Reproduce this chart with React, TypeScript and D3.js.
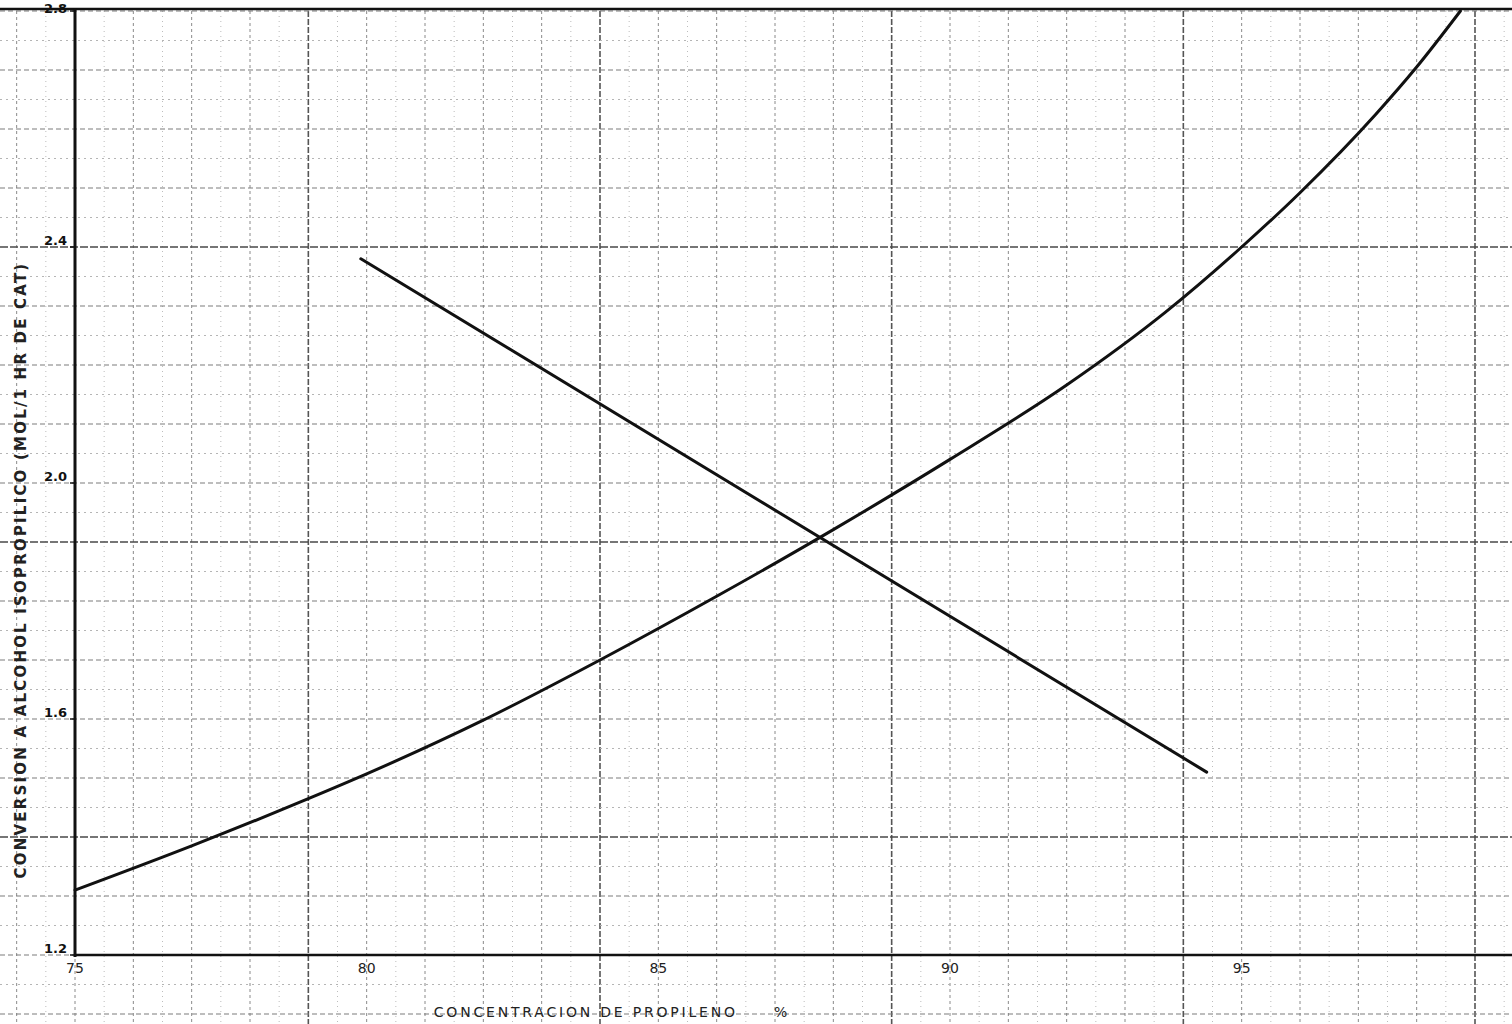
import React from "react";
import * as d3 from "d3";

// Propylene concentration (%) vs conversion to isopropyl alcohol
const risingX = [75, 77, 79, 80, 82, 84, 86, 88, 90, 92, 93.7, 95, 96, 97.3, 98, 98.75];
const risingY = [1.31, 1.385, 1.465, 1.507, 1.598, 1.7, 1.808, 1.921, 2.04, 2.166, 2.29, 2.4, 2.492, 2.625, 2.705, 2.8];

const fallingX = [79.9, 94.4];
const fallingY = [2.38, 1.51];

const xTicks = [75, 80, 85, 90, 95];
const yTicks = [1.2, 1.6, 2.0, 2.4, 2.8];

const xTitle = "CONCENTRACION DE PROPILENO     %";
const yTitle = "CONVERSION A ALCOHOL ISOPROPILICO (MOL/1 HR DE CAT)";

const W = 1512;
const H = 1024;

export default function App() {
  const x = d3.scaleLinear().domain([75, 99.6]).range([75, 1510]);
  const y = d3.scaleLinear().domain([1.2, 2.8]).range([955, 11]);

  // graph paper lines, extended across the whole sheet
  const vMinor = d3.range(73.5, 100.01, 0.5);
  const hMinor = d3.range(1.1, 2.801, 0.05);
  const isWhole = (v: number) => Math.abs(v - Math.round(v)) < 1e-6;
  const isTenth = (v: number) => Math.abs(v * 10 - Math.round(v * 10)) < 1e-6;
  const vMajor = [79, 84, 89, 94, 99];
  const hMajor = [1.4, 1.9, 2.4];

  const line = d3
    .line<[number, number]>()
    .x((d) => x(d[0]))
    .y((d) => y(d[1]))
    .curve(d3.curveMonotoneX);

  const rising = risingX.map((v, i) => [v, risingY[i]] as [number, number]);
  const falling = fallingX.map((v, i) => [v, fallingY[i]] as [number, number]);

  const font = "'DejaVu Sans', sans-serif";

  return (
    <svg
      width={W}
      height={H}
      style={{ position: "absolute", left: 0, top: 0, background: "#fff" }}
    >
      <rect width={W} height={H} fill="#fff" />
      <g>
        {vMinor.map((v) => {
          const major = vMajor.some((m) => Math.abs(m - v) < 1e-6);
          const whole = isWhole(v);
          return (
            <line
              key={"v" + v}
              x1={x(v)}
              x2={x(v)}
              y1={y(2.8)}
              y2={H}
              stroke={major ? "#555" : whole ? "#8a8a8a" : "#bdbdbd"}
              strokeWidth={major ? 1.6 : 1}
              strokeDasharray={major ? "6 2" : whole ? "3 3" : "1 4"}
            />
          );
        })}
        {hMinor.map((v) => {
          const major = hMajor.some((m) => Math.abs(m - v) < 1e-6);
          const tenth = isTenth(v);
          return (
            <line
              key={"h" + v}
              x1={0}
              x2={W}
              y1={y(v)}
              y2={y(v)}
              stroke={major ? "#4a4a4a" : tenth ? "#7d7d7d" : "#b5b5b5"}
              strokeWidth={major ? 1.6 : tenth ? 1.2 : 1}
              strokeDasharray={major ? "8 2" : tenth ? "5 3" : "2 4"}
            />
          );
        })}
      </g>

      {/* frame / axes */}
      <line x1={0} x2={W} y1={y(2.8) - 2} y2={y(2.8) - 2} stroke="#111" strokeWidth={2.5} />
      <line x1={x(75)} x2={W} y1={y(1.2)} y2={y(1.2)} stroke="#111" strokeWidth={2.5} />
      <line x1={x(75)} x2={x(75)} y1={y(2.8) - 3} y2={y(1.2) + 2} stroke="#111" strokeWidth={3} />

      {yTicks.map((t) => (
        <g key={"yt" + t}>
          <line x1={x(75) - 5} x2={x(75)} y1={y(t)} y2={y(t)} stroke="#111" strokeWidth={1.5} />
          <text
            x={x(75) - 8}
            y={t === 2.8 ? y(t) + 2 : y(t) - 2}
            textAnchor="end"
            fontFamily={font}
            fontSize={13}
            fontWeight="bold"
            fill="#111"
          >
            {t.toFixed(1)}
          </text>
        </g>
      ))}

      {xTicks.map((t) => (
        <text
          key={"xt" + t}
          x={x(t)}
          y={y(1.2) + 18}
          textAnchor="middle"
          fontFamily={font}
          fontSize={14}
          fill="#222"
        >
          {t}
        </text>
      ))}

      <text
        x={612}
        y={1017}
        textAnchor="middle"
        fontFamily={font}
        fontSize={14}
        letterSpacing={2.8}
        fill="#222"
        style={{ whiteSpace: "pre" }}
      >
        {xTitle}
      </text>

      <text
        transform={`translate(26,${570}) rotate(-90)`}
        textAnchor="middle"
        fontFamily={font}
        fontSize={15}
        fontWeight="bold"
        letterSpacing={2.2}
        fill="#222"
      >
        {yTitle}
      </text>

      <path d={line(rising) ?? ""} fill="none" stroke="#111" strokeWidth={3} strokeLinecap="round" />
      <path d={line(falling) ?? ""} fill="none" stroke="#111" strokeWidth={3} strokeLinecap="round" />
    </svg>
  );
}
